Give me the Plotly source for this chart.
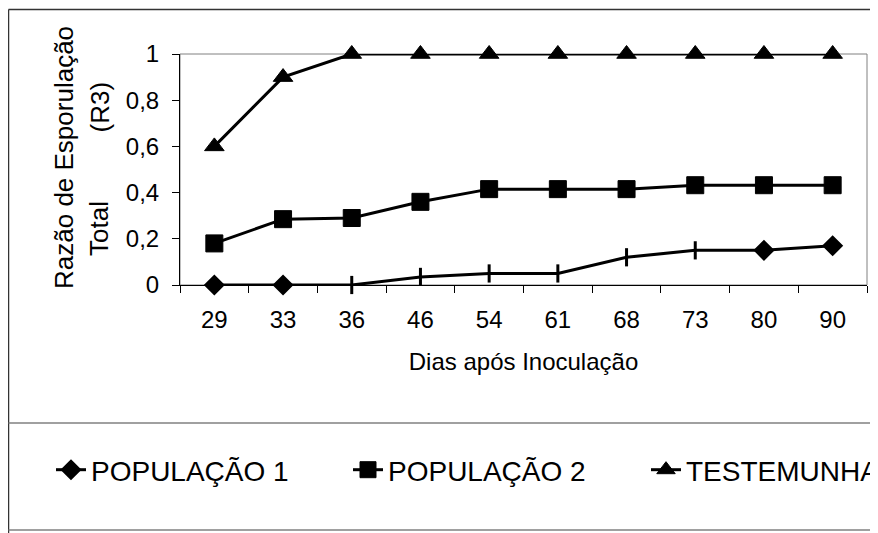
import plotly.graph_objects as go

dias = ["29", "33", "36", "46", "54", "61", "68", "73", "80", "90"]
pop1 = [0, 0, 0, 0.035, 0.05, 0.05, 0.12, 0.15, 0.15, 0.17]
pop2 = [0.18, 0.285, 0.29, 0.36, 0.415, 0.415, 0.415, 0.432, 0.432, 0.432]
testemunha = [0.6, 0.9, 1, 1, 1, 1, 1, 1, 1, 1]
pop1_symbols = ["diamond", "diamond", "line-ns", "line-ns", "line-ns", "line-ns",
                "line-ns", "line-ns", "diamond", "diamond"]
y_ticks = [0, 0.2, 0.4, 0.6, 0.8, 1]
y_ticktext = ["0", "0,2", "0,4", "0,6", "0,8", "1"]

FONT = "Arial, 'Liberation Sans', sans-serif"

# page has an 8px body margin: figure pixel = window pixel - 8
OFF = 8
W, H = 870, 525
L, R, T, B = 172, 11, 46, 248
pw, ph = W - L - R, H - T - B


def px(xw):
    return (xw - OFF - L) / pw


def py(yw):
    return (H - B - (yw - OFF)) / ph


fig = go.Figure()
fig.add_trace(go.Scatter(
    x=dias, y=pop1, name="POPULAÇÃO 1", mode="lines+markers", cliponaxis=False,
    line=dict(color="black", width=3), legend="legend",
    marker=dict(symbol=pop1_symbols, size=13, color="black",
                line=dict(color="black", width=3)),
))
fig.add_trace(go.Scatter(
    x=dias, y=pop2, name="POPULAÇÃO 2", mode="lines+markers", cliponaxis=False,
    line=dict(color="black", width=3), legend="legend2",
    marker=dict(symbol="square", size=17, color="black",
                line=dict(color="black", width=1)),
))
fig.add_trace(go.Scatter(
    x=dias, y=testemunha, name="TESTEMUNHA", mode="lines+markers", cliponaxis=False,
    line=dict(color="black", width=3), legend="legend3",
    marker=dict(symbol="triangle-up", size=17, color="black",
                line=dict(color="black", width=1)),
))

shapes = [
    dict(type="rect", xref="paper", yref="paper", x0=0, x1=1, y0=0, y1=1,
         line=dict(color="#808080", width=1), layer="below"),
    dict(type="line", xref="paper", yref="paper", x0=px(8.5), x1=px(900),
         y0=py(9.5), y1=py(9.5), line=dict(color="#333333", width=1.5)),
    dict(type="line", xref="paper", yref="paper", x0=px(8.5), x1=px(8.5),
         y0=py(9.5), y1=py(560), line=dict(color="#333333", width=1.5)),
    dict(type="line", xref="paper", yref="paper", x0=px(8.5), x1=px(900),
         y0=py(423), y1=py(423), line=dict(color="#808080", width=1.5)),
    dict(type="line", xref="paper", yref="paper", x0=px(8.5), x1=px(900),
         y0=py(530), y1=py(530), line=dict(color="#808080", width=1.5)),
]

ann_font = dict(size=26, color="black", family=FONT)
annotations = [
    dict(text="Razão de Esporulação", xref="paper", yref="paper",
         x=px(64), y=py(158), xanchor="center", yanchor="middle",
         textangle=-90, showarrow=False, font=ann_font),
    dict(text="(R3)", xref="paper", yref="paper",
         x=px(99), y=py(107.5), xanchor="center", yanchor="middle",
         textangle=-90, showarrow=False, font=ann_font),
    dict(text="Total", xref="paper", yref="paper",
         x=px(99), y=py(229), xanchor="center", yanchor="middle",
         textangle=-90, showarrow=False, font=ann_font),
]

leg_common = dict(orientation="h", yanchor="middle", xanchor="left",
                  font=dict(size=28, color="black", family=FONT),
                  bgcolor="rgba(0,0,0,0)", itemclick=False, itemdoubleclick=False)

fig.update_layout(
    width=W, height=H,
    margin=dict(l=L, r=R, t=T, b=B, autoexpand=False),
    paper_bgcolor="white", plot_bgcolor="white",
    font=dict(family=FONT, size=24, color="black"),
    showlegend=True,
    legend=dict(x=px(93 - 42), y=py(470), **leg_common),
    legend2=dict(x=px(390 - 42), y=py(470), **leg_common),
    legend3=dict(x=px(688 - 42), y=py(470), **leg_common),
    shapes=shapes,
    annotations=annotations,
    xaxis=dict(type="category", showgrid=False, zeroline=False,
               showline=True, linecolor="black", linewidth=1,
               ticks="outside", ticklen=7, tickcolor="black", tickson="boundaries",
               tickfont=dict(size=24, color="black"), ticklabelstandoff=13,
               title=dict(text="Dias após Inoculação", font=dict(size=24, color="black"),
                          standoff=21),
               range=[-0.5, 9.5]),
    yaxis=dict(range=[0, 1], showgrid=False, zeroline=False,
               showline=True, linecolor="black", linewidth=1,
               ticks="outside", ticklen=7, tickcolor="black",
               tickvals=y_ticks, ticktext=y_ticktext,
               tickfont=dict(size=24, color="black"), ticklabelstandoff=8),
)

fig.write_html("out.html")
